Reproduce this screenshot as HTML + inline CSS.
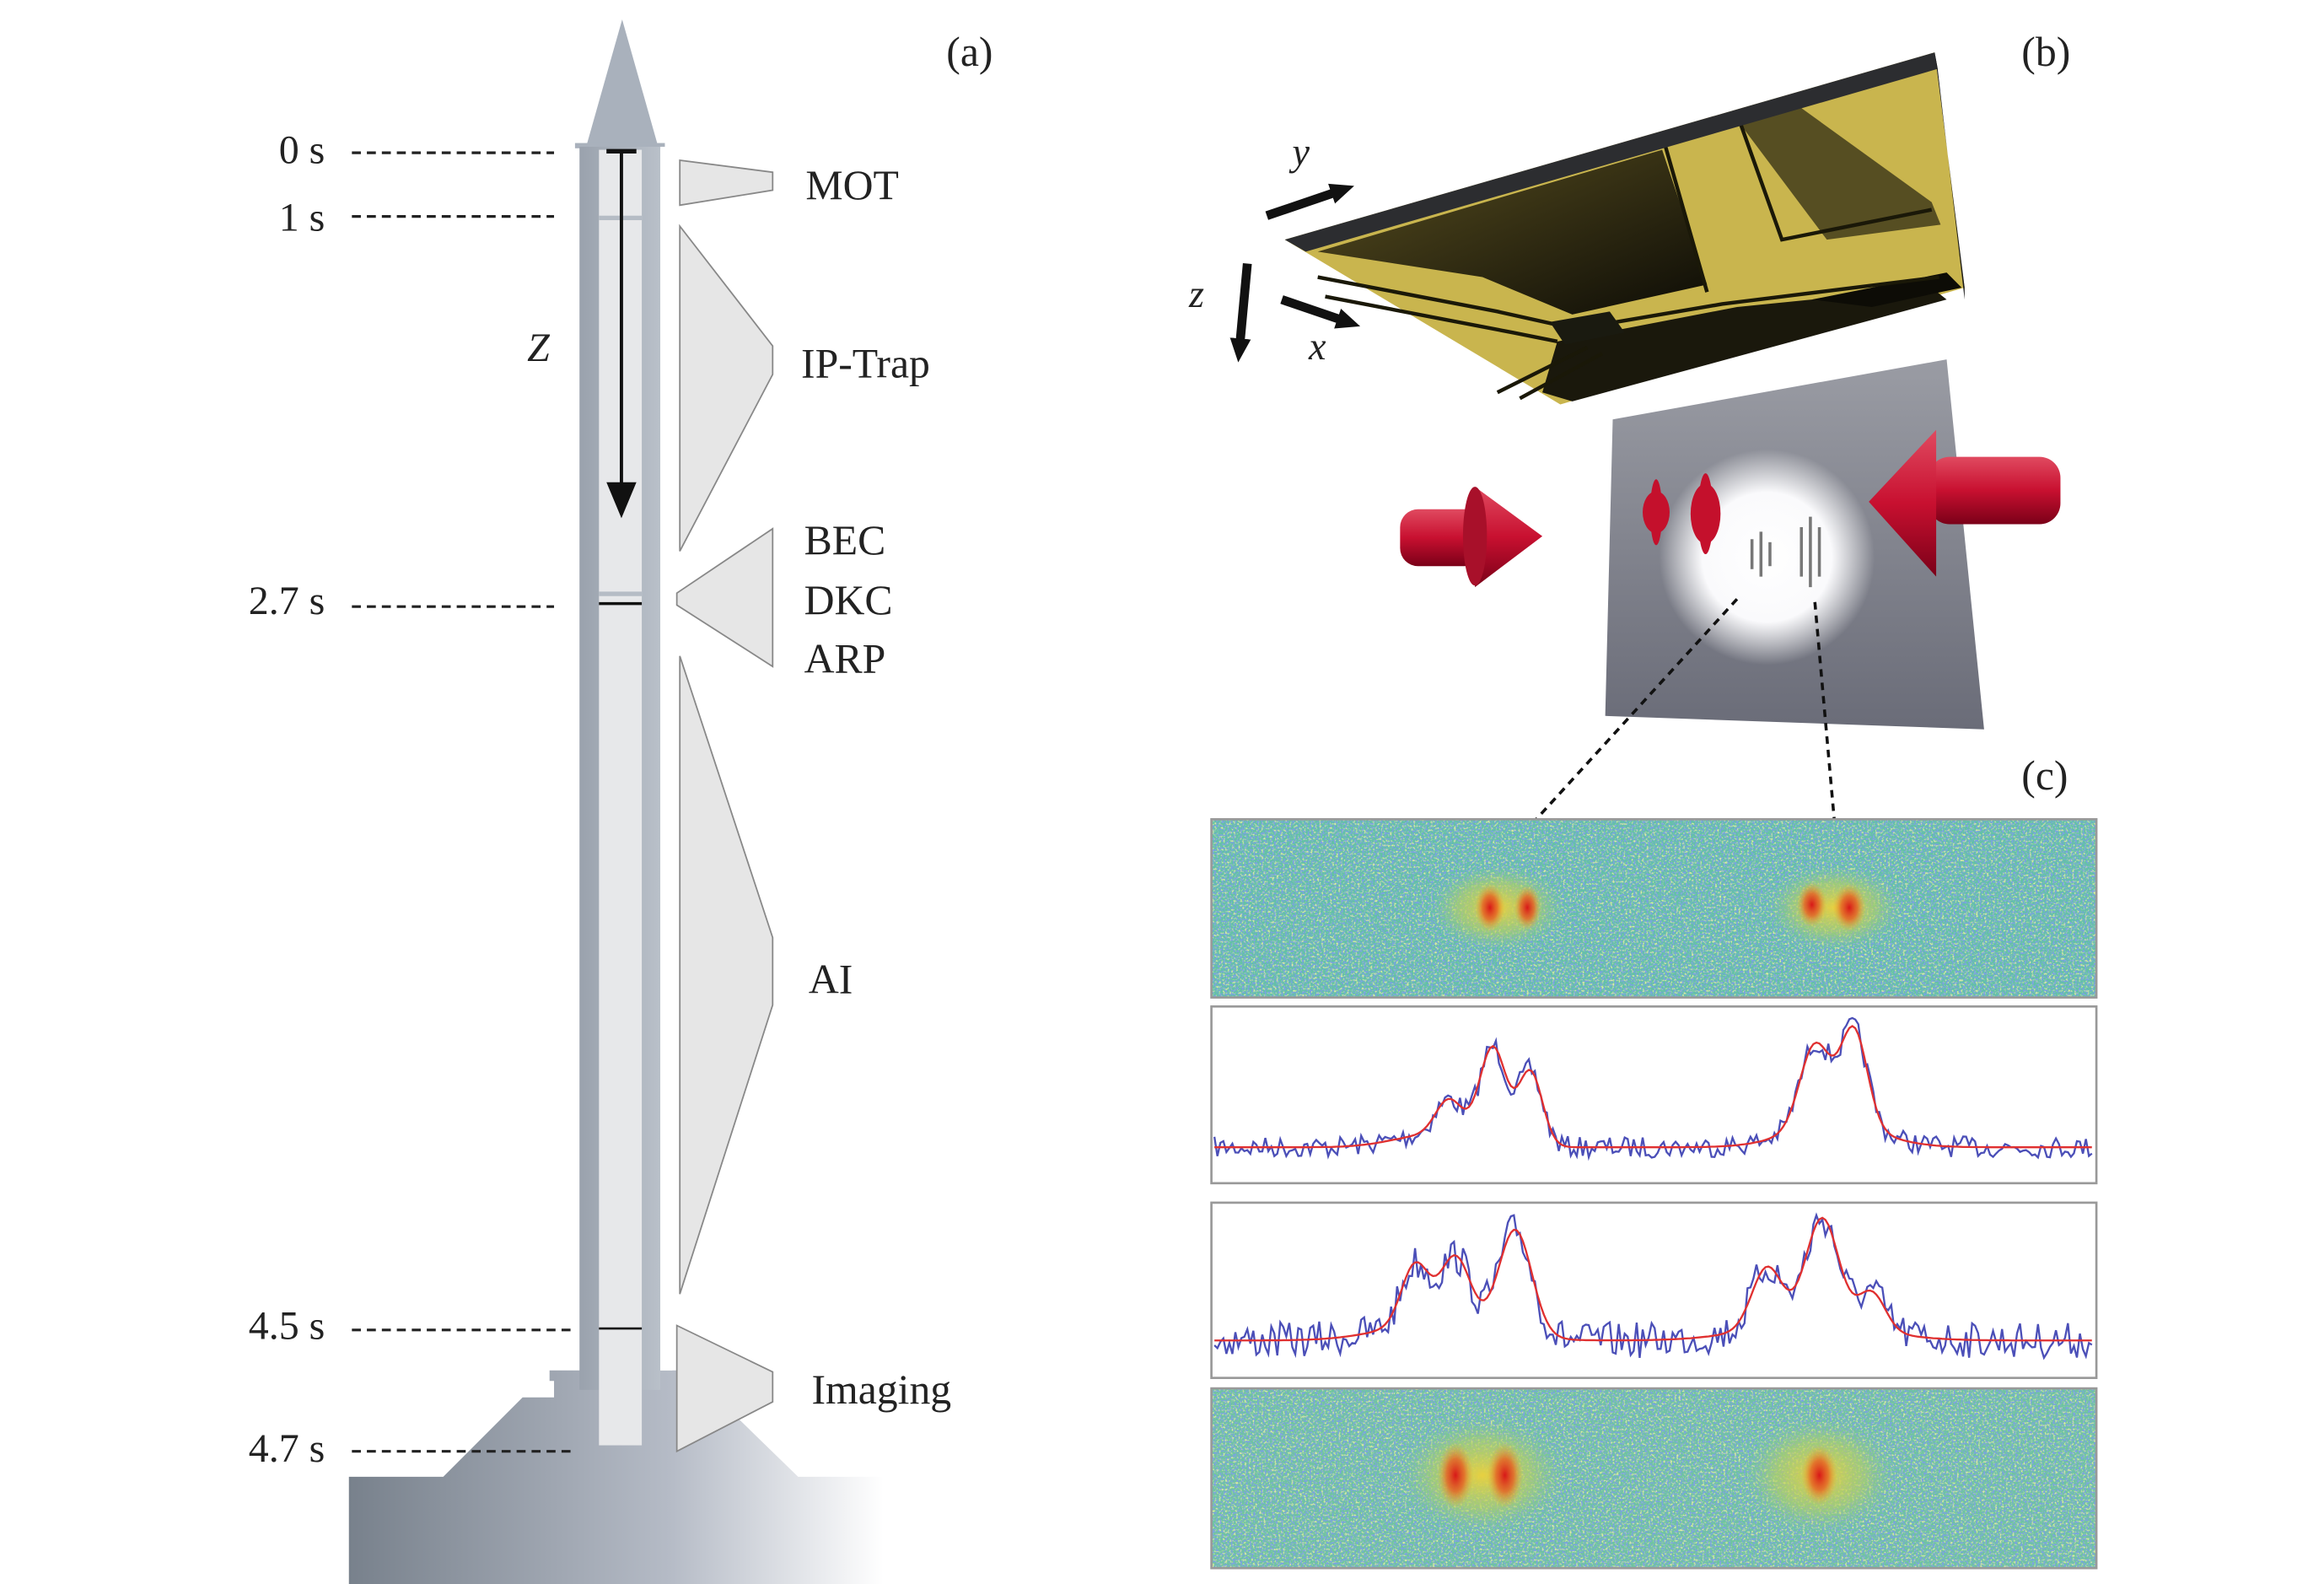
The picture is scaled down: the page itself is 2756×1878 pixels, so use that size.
<!DOCTYPE html>
<html><head><meta charset="utf-8"><style>
html,body{margin:0;padding:0;background:#fff;}
svg{display:block;}
text{font-family:"Liberation Serif",serif;fill:#222;}
</style></head><body>
<svg id="s" width="2756" height="1878" viewBox="0 0 1552 1057.6" preserveAspectRatio="none" xmlns="http://www.w3.org/2000/svg">
<defs>
<linearGradient id="base" x1="0" x2="1" y1="0" y2="0">
<stop offset="0" stop-color="#78818c"/><stop offset="0.6" stop-color="#b5bbc6"/><stop offset="1" stop-color="#ffffff"/></linearGradient>
<linearGradient id="wall" x1="0" x2="1"><stop offset="0" stop-color="#9aa2ad"/><stop offset="1" stop-color="#b9c0c9"/></linearGradient>
<linearGradient id="dark" x1="0" y1="0" x2="1" y2="1"><stop offset="0" stop-color="#5a5020"/><stop offset="1" stop-color="#0d0c06"/></linearGradient>
<linearGradient id="plate" x1="0" y1="0" x2="0" y2="1"><stop offset="0" stop-color="#9a9ca4"/><stop offset="1" stop-color="#6a6c78"/></linearGradient>
<radialGradient id="glow"><stop offset="0" stop-color="#fff"/><stop offset="0.6" stop-color="#fafafc"/><stop offset="1" stop-color="#fff" stop-opacity="0"/></radialGradient>
<linearGradient id="red" x1="0" y1="0" x2="0" y2="1"><stop offset="0" stop-color="#e04a60"/><stop offset="0.5" stop-color="#c81030"/><stop offset="1" stop-color="#7a0018"/></linearGradient>
<radialGradient id="blobY"><stop offset="0" stop-color="#e8d040"/><stop offset="0.6" stop-color="#b8d060" stop-opacity="0.6"/><stop offset="1" stop-color="#8cc890" stop-opacity="0"/></radialGradient>
<radialGradient id="blobR"><stop offset="0" stop-color="#d81818"/><stop offset="0.5" stop-color="#e86020" stop-opacity="0.8"/><stop offset="1" stop-color="#e8b030" stop-opacity="0"/></radialGradient>
<filter id="noise" x="0" y="0" width="1" height="1">
<feTurbulence type="fractalNoise" baseFrequency="0.8" numOctaves="2" seed="3"/>
<feColorMatrix type="matrix" values="0 0 0 0 0.2  0 0 0 0 0.35  0 0 0 0 0.8  4 0 0 0 -1.8"/>
<feComposite in2="SourceGraphic" operator="in"/>
</filter>
<filter id="noise2" x="0" y="0" width="1" height="1">
<feTurbulence type="fractalNoise" baseFrequency="0.7" numOctaves="2" seed="11"/>
<feColorMatrix type="matrix" values="0 0 0 0 0.75  0 0 0 0 0.85  0 0 0 0 0.35  4 0 0 0 -2"/>
<feComposite in2="SourceGraphic" operator="in"/>
</filter>
<marker id="ah" markerUnits="userSpaceOnUse" markerWidth="16" markerHeight="16" refX="4" refY="8" orient="auto"><path d="M0,1 L16,8 L0,15 z" fill="#111"/></marker>
</defs>

<!-- (a) tower -->
<polygon points="367,915 446,915 460,915 533,986 590,986 590,1062 233,1062 233,986 296,986 349,933 370,933 370,922 367,922" fill="url(#base)"/>
<polygon points="415.5,13 392,96 439,96" fill="#a9b1bc"/>
<rect x="384" y="95.5" width="60" height="3.5" fill="#a9b1bc"/>
<rect x="387" y="98" width="54" height="830" fill="url(#wall)"/>
<rect x="400" y="100" width="28.6" height="865" fill="#e7e8ea"/>
<rect x="400" y="144" width="28.6" height="3" fill="#b5bcc5"/>
<rect x="400" y="395" width="28.6" height="3" fill="#b5bcc5"/>
<line x1="400" y1="403" x2="428.6" y2="403" stroke="#111" stroke-width="2"/>
<line x1="400" y1="887" x2="428.6" y2="887" stroke="#111" stroke-width="1.5"/>
<line x1="405" y1="101" x2="425" y2="101" stroke="#111" stroke-width="3"/>
<line x1="415" y1="101" x2="415" y2="325" stroke="#111" stroke-width="2.2"/>
<polygon points="405,322 425,322 415,346" fill="#111"/>
<rect x="441" y="98" width="8" height="817" fill="#fff"/>

<g fill="#e6e6e6" stroke="#888" stroke-width="1">
<polygon points="454,107 516,115 516,127 454,137"/>
<polygon points="454,151 516,231 516,250 454,368"/>
<polygon points="516,353 516,445 452,404 452,396"/>
<polygon points="454,438 516,626 516,671 454,864"/>
<polygon points="452,885 516,916 516,936 452,969"/>
</g>
<g stroke="#222" stroke-width="1.8" stroke-dasharray="6,4">
<line x1="235" y1="102" x2="370" y2="102"/>
<line x1="235" y1="144.5" x2="370" y2="144.5"/>
<line x1="235" y1="405" x2="370" y2="405"/>
<line x1="235" y1="888" x2="382" y2="888"/>
<line x1="235" y1="969" x2="382" y2="969"/>
</g>
<g font-size="27" text-anchor="end">
<text x="217" y="109">0 s</text><text x="217" y="154">1 s</text><text x="217" y="410">2.7 s</text>
<text x="217" y="894">4.5 s</text><text x="217" y="976">4.7 s</text>
</g>
<text x="352" y="241" font-size="27" font-style="italic">Z</text>
<g font-size="28">
<text x="538" y="133">MOT</text><text x="535" y="252">IP-Trap</text>
<text x="537" y="370">BEC</text><text x="537" y="410">DKC</text><text x="537" y="449">ARP</text>
<text x="540" y="663">AI</text><text x="542" y="937">Imaging</text>
<text x="632" y="44">(a)</text><text x="1350" y="44">(b)</text><text x="1350" y="527">(c)</text>
</g>

<!-- (b) chip -->
<polygon points="858,160 1292,35 1312,192 1042,270" fill="#c9b54e"/>
<polygon points="880,168 1110,100 1140,190 1050,210 990,185" fill="url(#dark)"/>
<polygon points="1040,228 1160,205 1290,192 1300,200 1050,268 1030,262" fill="#1a180c"/>
<polygon points="1160,80 1200,70 1290,135 1296,150 1220,160" fill="#3a3418" opacity="0.8"/>
<polygon points="1210,200 1300,182 1310,192 1250,205" fill="#0d0c06"/>
<g stroke="#1a1808" stroke-width="2.5" fill="none">
<path d="M880,185 L1000,208 L1045,218"/><path d="M885,198 L1010,222 L1040,228"/>
<path d="M1110,90 L1140,195"/><path d="M1160,76 L1190,160 L1290,140"/>
<path d="M1050,220 L1150,203 L1295,185"/><path d="M1000,262 L1060,232"/>
<path d="M1015,266 L1070,236"/>
</g>
<polygon points="1035,215 1075,208 1085,222 1045,230" fill="#1a1a10"/>
<polygon points="858,160 1292,35 1294,46 872,168" fill="#2c2d30"/>
<polygon points="1292,35 1312,192 1312,200 1294,46" fill="#1a1a1a"/>
<!-- axes -->
<g stroke="#111" stroke-width="6" marker-end="url(#ah)">
<line x1="846" y1="144" x2="893" y2="128"/>
<line x1="833" y1="176" x2="828" y2="230"/>
<line x1="856" y1="200" x2="897" y2="214"/>
</g>
<g font-size="26" font-style="italic"><text x="863" y="110">y</text><text x="794" y="205">z</text><text x="874" y="240">x</text></g>
<!-- plate -->
<polygon points="1077,280 1300,240 1325,487 1072,478" fill="url(#plate)"/>
<circle cx="1180" cy="372" r="72" fill="url(#glow)"/>
<g fill="#c4102c">
<ellipse cx="1106" cy="342" rx="9" ry="14"/><ellipse cx="1106" cy="342" rx="4" ry="22"/>
<ellipse cx="1139" cy="343" rx="10" ry="20"/><ellipse cx="1139" cy="343" rx="5" ry="27"/>
</g>
<g stroke="#777" stroke-width="2">
<line x1="1170" y1="360" x2="1170" y2="380"/><line x1="1176" y1="355" x2="1176" y2="385"/><line x1="1182" y1="362" x2="1182" y2="378"/>
<line x1="1203" y1="352" x2="1203" y2="385"/><line x1="1209" y1="345" x2="1209" y2="392"/><line x1="1215" y1="352" x2="1215" y2="385"/>
</g>
<!-- red arrows -->
<rect x="935" y="340" width="55" height="38" rx="12" fill="url(#red)"/>
<polygon points="985,325 1030,358 985,392" fill="url(#red)"/>
<ellipse cx="985" cy="358" rx="8" ry="33" fill="#a8102a"/>
<rect x="1288" y="305" width="88" height="45" rx="14" fill="url(#red)"/>
<polygon points="1293,287 1248,335 1293,385" fill="url(#red)"/>
<g stroke="#111" stroke-width="2" stroke-dasharray="5,4">
<line x1="1160" y1="400" x2="1025" y2="548"/><line x1="1212" y1="402" x2="1225" y2="548"/>
</g>

<!-- (c) heatmaps -->
<g>
<rect x="809" y="547" width="591" height="119" fill="#62c2a4"/>
<rect x="809" y="547" width="591" height="119" fill="#62c2a4" filter="url(#noise2)"/>
<rect x="809" y="547" width="591" height="119" fill="#62c2a4" filter="url(#noise)"/>
<ellipse cx="1000" cy="606" rx="45" ry="28" fill="url(#blobY)"/>
<ellipse cx="1225" cy="606" rx="45" ry="28" fill="url(#blobY)"/>
<ellipse cx="995" cy="606" rx="10" ry="16" fill="url(#blobR)"/><ellipse cx="1020" cy="606" rx="9" ry="15" fill="url(#blobR)"/>
<ellipse cx="1210" cy="604" rx="10" ry="15" fill="url(#blobR)"/><ellipse cx="1235" cy="606" rx="11" ry="16" fill="url(#blobR)"/>
<rect x="809" y="547" width="591" height="119" fill="none" stroke="#999" stroke-width="1.5"/>
</g>
<rect x="809" y="672" width="591" height="118" fill="#fff" stroke="#999" stroke-width="1.5"/>
<rect x="809" y="803" width="591" height="117" fill="#fff" stroke="#999" stroke-width="1.5"/>
<path id="b2" fill="none" stroke="#4b4fb8" stroke-width="1.3"/>
<path id="r2" fill="none" stroke="#e03030" stroke-width="1.3"/>
<path id="b3" fill="none" stroke="#4b4fb8" stroke-width="1.3"/>
<path id="r3" fill="none" stroke="#e03030" stroke-width="1.3"/>
<g>
<rect x="809" y="927" width="591" height="120" fill="#6ec59e"/>
<rect x="809" y="927" width="591" height="120" fill="#6ec59e" filter="url(#noise2)"/>
<rect x="809" y="927" width="591" height="120" fill="#6ec59e" filter="url(#noise)"/>
<ellipse cx="990" cy="985" rx="55" ry="38" fill="url(#blobY)"/>
<ellipse cx="1215" cy="985" rx="50" ry="38" fill="url(#blobY)"/>
<ellipse cx="972" cy="985" rx="12" ry="22" fill="url(#blobR)"/><ellipse cx="1005" cy="985" rx="12" ry="22" fill="url(#blobR)"/>
<ellipse cx="1215" cy="985" rx="12" ry="20" fill="url(#blobR)"/>
<rect x="809" y="927" width="591" height="120" fill="none" stroke="#999" stroke-width="1.5"/>
</g>
</svg>
<script>
(function(){
var seed=7;function rnd(){seed=(seed*16807)%2147483647;return seed/2147483647;}
function curve(base,peaks,x){var y=base;for(var i=0;i<peaks.length;i++){var p=peaks[i];y-=p[1]*Math.exp(-Math.pow((x-p[0])/p[2],2)/2);}return y;}
function draw(idB,idR,base,peaks,amp){var b="",r="";for(var x=811;x<=1398;x+=2){var yc=curve(base,peaks,x);r+=(x==811?"M":"L")+x+","+yc.toFixed(1);var yn=yc+(rnd()-0.5)*amp*2;b+=(x==811?"M":"L")+x+","+yn.toFixed(1);}
document.getElementById(idB).setAttribute("d",b);document.getElementById(idR).setAttribute("d",r);}
draw("b2","r2",766,[[968,25,9],[997,65,9],[1022,50,8],[955,8,25],[1212,55,10],[1238,65,9],[1225,15,30]],7);
draw("b3","r3",895,[[945,40,9],[972,45,10],[1012,70,11],[960,12,35],[1180,40,10],[1217,70,11],[1250,25,9],[1210,12,40]],12);
})();
</script>
</body></html>
